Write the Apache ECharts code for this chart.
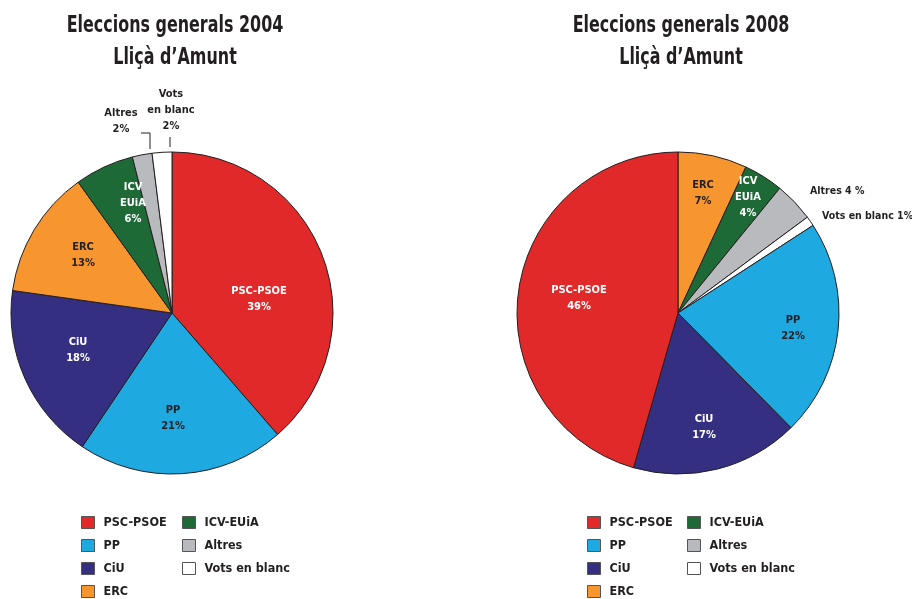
<!DOCTYPE html>
<html><head><meta charset="utf-8">
<script src="https://cdn.jsdelivr.net/npm/echarts@6/dist/echarts.min.js"></script>
<style>html,body{margin:0;padding:0;background:#fff}#c{width:912px;height:599px}</style>
</head><body><div id="c"></div>
<script>
var FONT = "'DejaVu Sans Condensed','Roboto',sans-serif";
var colors = {'PSC-PSOE':'#e1292a','PP':'#1ea9e0','CiU':'#342f81','ERC':'#f7962e','ICV-EUiA':'#1e6a37','Altres':'#b9babd','Vots en blanc':'#ffffff'};
var labelColors = {'PSC-PSOE':'#ffffff','PP':'#231f20','CiU':'#ffffff','ERC':'#231f20','ICV-EUiA':'#ffffff'};
var sliceLabels = {'PSC-PSOE':'PSC-PSOE','PP':'PP','CiU':'CiU','ERC':'ERC','ICV-EUiA':'ICV\nEUiA'};

var titles = ['Eleccions generals 2004', 'Eleccions generals 2008'];
var subtitle = 'Lliçà d\u2019Amunt';

// 2004, clockwise from 12 o'clock
var order2004 = ['PSC-PSOE','PP','CiU','ERC','ICV-EUiA','Altres','Vots en blanc'];
var values2004 = [39,21,18,13,6,2,2];
// 2008, clockwise from 12 o'clock
var order2008 = ['ERC','ICV-EUiA','Altres','Vots en blanc','PP','CiU','PSC-PSOE'];
var values2008 = [7,4,4,1,22,17,46];

var legendCol1 = ['PSC-PSOE','PP','CiU','ERC'];
var legendCol2 = ['ICV-EUiA','Altres','Vots en blanc'];

function buildData(order, values, outsideFmt, outsideSize){
  return order.map(function(n,i){
    var d = {name:n, value:values[i], itemStyle:{color:colors[n]}};
    if (sliceLabels[n]) {
      d.label = {show:true, position:'inside', color:labelColors[n],
        formatter: sliceLabels[n] + '\n' + values[i] + '%'};
    } else {
      d.label = {show:true, position:'outside', color:'#231f20', fontSize:outsideSize,
        formatter: outsideFmt(n, values[i])};
    }
    return d;
  });
}

// label anchor positions (text only)
var pos2004 = {
  'PSC-PSOE': {x:259, y:299, align:'center'},
  'PP': {x:173, y:418, align:'center'},
  'CiU': {x:78, y:350, align:'center'},
  'ERC': {x:83, y:255, align:'center'},
  'ICV-EUiA': {x:133, y:203, align:'center'},
  'Altres': {x:121, y:121, align:'center', line:[[150,149],[150,133],[141,133]]},
  'Vots en blanc': {x:171, y:110, align:'center', line:[[170,147],[170,142],[170,137]]}
};
var pos2008 = {
  'PSC-PSOE': {x:579, y:298, align:'center'},
  'PP': {x:793, y:328, align:'center'},
  'CiU': {x:704, y:427, align:'center'},
  'ERC': {x:703, y:193, align:'center'},
  'ICV-EUiA': {x:748, y:197, align:'center'},
  'Altres': {x:810, y:191, align:'left'},
  'Vots en blanc': {x:822, y:216, align:'left'}
};

function layoutFor(order, pos){
  return function(p){
    var n = order[p.dataIndex];
    var q = pos[n];
    if (!q) return {};
    var r = {x:q.x, y:q.y, align:q.align, verticalAlign:'middle'};
    if (q.line) r.labelLinePoints = q.line;
    return r;
  };
}

function pieSeries(name, center, order, values, fmt, pos, showLine, outsideSize){
  return {
    type:'pie', name:name, center:center, radius:161, startAngle:90, clockwise:true,
    animation:false, avoidLabelOverlap:false,
    itemStyle:{borderColor:'#231f20', borderWidth:1},
    label:{fontFamily:FONT, fontWeight:'bold', fontSize:11, lineHeight:16},
    labelLine:{show:showLine, lineStyle:{color:'#231f20', width:1}},
    labelLayout: layoutFor(order, pos),
    emphasis:{disabled:true},
    data: buildData(order, values, fmt, outsideSize)
  };
}

function legendItem(left, centerY, name){
  return {
    left:left, top:centerY - 6, orient:'horizontal', itemWidth:13, itemHeight:12,
    padding:0, icon:'rect', selectedMode:false,
    itemStyle:{borderColor:'#555', borderWidth:1},
    textStyle:{fontFamily:FONT, fontWeight:'bold', fontSize:12.5, color:'#231f20', padding:[0,0,0,4]},
    data:[name]
  };
}

var rowsY = [522, 545, 568, 591];
var legends = [];
[[81,182],[587,687]].forEach(function(cols){
  legendCol1.forEach(function(n,i){ legends.push(legendItem(cols[0], rowsY[i], n)); });
  legendCol2.forEach(function(n,i){ legends.push(legendItem(cols[1], rowsY[i], n)); });
});

function titleText(x, y, txt){
  return {type:'text', x:x, y:y, scaleX:0.77, silent:true,
    style:{text:txt, fill:'#231f20', font:'bold 23px ' + FONT, textAlign:'center', textVerticalAlign:'middle'}};
}

var chart = echarts.init(document.getElementById('c'));
chart.setOption({
  backgroundColor:'#fff',
  graphic:[
    titleText(175, 26, titles[0]), titleText(175, 58, subtitle),
    titleText(681, 26, titles[1]), titleText(681, 58, subtitle)
  ],
  legend: legends,
  series:[
    pieSeries('2004', [172,313], order2004, values2004,
      function(n,v){ return (n==='Vots en blanc' ? 'Vots\nen blanc' : n) + '\n' + v + '%'; }, pos2004, true, 11),
    pieSeries('2008', [678,313], order2008, values2008,
      function(n,v){ return n==='Altres' ? 'Altres ' + v + ' %' : n + ' ' + v + '%'; }, pos2008, false, 10.5)
  ]
});
</script></body></html>
